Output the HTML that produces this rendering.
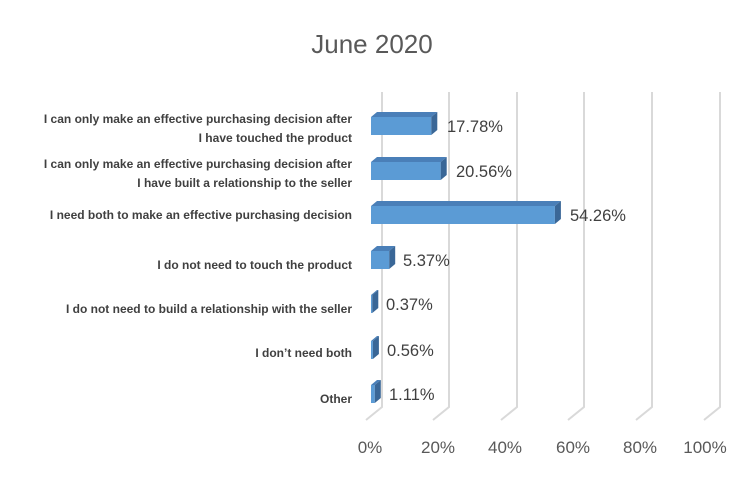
<!DOCTYPE html>
<html><head><style>body{margin:0;background:#fff}</style></head><body>
<svg width="735" height="485" xmlns="http://www.w3.org/2000/svg" font-family="Liberation Sans, sans-serif">
<rect width="735" height="485" fill="#fff"/>
<text x="372" y="53" font-size="26" fill="#595959" text-anchor="middle">June 2020</text>
<g stroke="#d9d9d9" stroke-width="2" fill="none">
<polyline points="382,92 382,407 366,420"/>
<polyline points="449,92 449,407 433,420"/>
<polyline points="517,92 517,407 501,420"/>
<polyline points="584,92 584,407 568,420"/>
<polyline points="652,92 652,407 636,420"/>
<polyline points="720,92 720,407 704,420"/>
</g>
<g font-size="17" fill="#595959" text-anchor="middle">
<text x="370" y="453">0%</text><text x="438" y="453">20%</text><text x="505" y="453">40%</text>
<text x="573" y="453">60%</text><text x="640" y="453">80%</text><text x="705" y="453">100%</text>
</g>
<g font-size="12" font-weight="bold" fill="#404040" text-anchor="end">
<text x="352" y="123">I can only make an effective purchasing decision after</text>
<text x="352" y="142">I have touched the product</text>
<text x="352" y="168">I can only make an effective purchasing decision after</text>
<text x="352" y="187">I have built a relationship to the seller</text>
<text x="352" y="219">I need both to make an effective purchasing decision</text>
<text x="352" y="269">I do not need to touch the product</text>
<text x="352" y="313">I do not need to build a relationship with the seller</text>
<text x="352" y="357">I don’t need both</text>
<text x="352" y="403">Other</text>
</g>
<g>
<polygon points="371,117 377,112 437.3,112 431.3,117" fill="#4a7fb8"/>
<rect x="371" y="117" width="60.3" height="18" fill="#5b9bd5"/>
<polygon points="431.3,117 437.3,112 437.3,130 431.3,135" fill="#3a6797"/>

<polygon points="371,162 377,157 446.7,157 440.7,162" fill="#4a7fb8"/>
<rect x="371" y="162" width="69.7" height="18" fill="#5b9bd5"/>
<polygon points="440.7,162 446.7,157 446.7,175 440.7,180" fill="#3a6797"/>

<polygon points="371,206 377,201 560.9,201 554.9,206" fill="#4a7fb8"/>
<rect x="371" y="206" width="183.9" height="18" fill="#5b9bd5"/>
<polygon points="554.9,206 560.9,201 560.9,219 554.9,224" fill="#3a6797"/>

<polygon points="371,251 377,246 395.2,246 389.2,251" fill="#4a7fb8"/>
<rect x="371" y="251" width="18.2" height="18" fill="#5b9bd5"/>
<polygon points="389.2,251 395.2,246 395.2,264 389.2,269" fill="#3a6797"/>

<polygon points="371,295 377,290 378.3,290 372.3,295" fill="#4a7fb8"/>
<rect x="371" y="295" width="1.3" height="18" fill="#5b9bd5"/>
<polygon points="372.3,295 378.3,290 378.3,308 372.3,313" fill="#3a6797"/>

<polygon points="371,341 377,336 378.9,336 372.9,341" fill="#4a7fb8"/>
<rect x="371" y="341" width="1.9" height="18" fill="#5b9bd5"/>
<polygon points="372.9,341 378.9,336 378.9,354 372.9,359" fill="#3a6797"/>

<polygon points="371,385 377,380 380.8,380 374.8,385" fill="#4a7fb8"/>
<rect x="371" y="385" width="3.8" height="18" fill="#5b9bd5"/>
<polygon points="374.8,385 380.8,380 380.8,398 374.8,403" fill="#3a6797"/>
</g>
<g font-size="16.5" fill="#404040">
<text x="447" y="132">17.78%</text>
<text x="456" y="177">20.56%</text>
<text x="570" y="221">54.26%</text>
<text x="403" y="266">5.37%</text>
<text x="386" y="310">0.37%</text>
<text x="387" y="356">0.56%</text>
<text x="389" y="400">1.11%</text>
</g>
</svg>
</body></html>
